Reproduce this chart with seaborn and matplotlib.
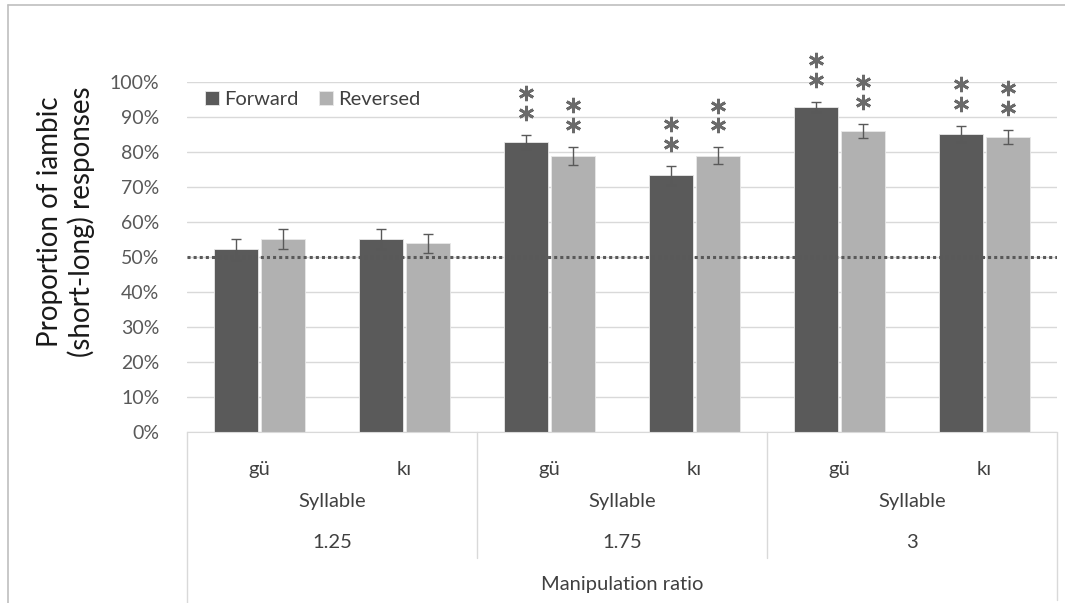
import pandas as pd
import numpy as np
import seaborn as sns
import matplotlib.pyplot as plt
from matplotlib.lines import Line2D

# values (percent of iambic responses)
ratios = ['1.25', '1.75', '3']
syllables = ['gü', 'kı']
forward = [52.2, 55.1, 82.9, 73.4, 92.9, 85.2]
reversed_ = [55.1, 53.9, 78.9, 78.9, 86.1, 84.4]
forward_err = [3.0, 2.9, 2.0, 2.7, 1.4, 2.2]
reversed_err = [2.8, 2.7, 2.6, 2.4, 2.0, 2.0]
forward_sig = [0, 0, 1, 1, 1, 1]
reversed_sig = [0, 0, 1, 1, 1, 1]
directions = ['Forward', 'Reversed']
chance = 50

cats = [r + ' ' + s for r in ratios for s in syllables]
df = pd.DataFrame({
    'cond': cats * 2,
    'direction': ['Forward'] * 6 + ['Reversed'] * 6,
    'pct': forward + reversed_,
})

sns.set_style('white')
plt.rcParams['font.family'] = ['Lato', 'DejaVu Sans']

dark = '#5a5a5a'
light = '#b1b1b1'
grid_c = '#d9d9d9'
txt_c = '#404040'
fs = 14.5

fig = plt.figure(figsize=(10.65, 6.03), dpi=100)
ax = fig.add_axes([187 / 1065, 1 - 432 / 603, 870 / 1065, 350 / 603])

sns.barplot(data=df, x='cond', y='pct', hue='direction', order=cats,
            hue_order=directions, palette=[dark, light], width=0.65, gap=0.075,
            errorbar=None, edgecolor='#e8e8e8', linewidth=0.6, ax=ax)

ax.set_ylim(0, 100)
ax.set_xlim(-0.5, 5.5)
ax.set_yticks(np.arange(0, 101, 10))
ax.set_yticklabels([f'{v}%' for v in range(0, 101, 10)], fontsize=14, color='#595959')
ax.tick_params(axis='y', length=0, pad=20)
ax.yaxis.grid(True, color=grid_c, lw=1)
ax.set_axisbelow(True)
for s in ['top', 'right', 'left']:
    ax.spines[s].set_visible(False)
ax.spines['bottom'].set_color(grid_c)
ax.set_xticks(range(6))
ax.set_xticklabels(syllables * 3, fontsize=fs, color=txt_c)
ax.tick_params(axis='x', length=0, pad=21)
ax.set_xlabel('')
ax.set_ylabel('')

# error bars and significance stars
errs = [forward_err, reversed_err]
sigs = [forward_sig, reversed_sig]
for cont, err, sig in zip(ax.containers, errs, sigs):
    xs = [b.get_x() + b.get_width() / 2 for b in cont]
    ys = [b.get_height() for b in cont]
    ax.errorbar(xs, ys, yerr=err, fmt='none', ecolor='#595959', elinewidth=1,
                capsize=3.5, capthick=1, zorder=4)
    for x, y, e, s in zip(xs, ys, err, sig):
        if s:
            ax.plot([x, x], [y + e + 6.3, y + e + 11.9], ls='none', marker=(6, 2, 0),
                    ms=11, mew=2, color='#6a6a6a', clip_on=False, zorder=5)

# chance line
ax.axhline(chance, color='#595959', ls=(0, (1, 1)), lw=2.2, zorder=6)

sns.move_legend(ax, 'center left', bbox_to_anchor=(0.0, 0.95), ncol=2, title=None,
                frameon=False, fontsize=fs, handlelength=0.7, handleheight=0.7,
                handletextpad=0.25, columnspacing=1.0)
for t in ax.get_legend().get_texts():
    t.set_color(txt_c)

# category table below the axis
tr = ax.get_xaxis_transform()
for i, r in enumerate(ratios):
    xc = 2 * i + 0.5
    ax.text(xc, -0.2, 'Syllable', transform=tr, ha='center', va='center',
            fontsize=fs, color=txt_c)
    ax.text(xc, -0.317, r, transform=tr, ha='center', va='center',
            fontsize=fs, color=txt_c)
ax.text(2.5, -0.437, 'Manipulation ratio', transform=tr, ha='center', va='center',
        fontsize=fs, color=txt_c)
for xv in [1.5, 3.5]:
    ax.plot([xv, xv], [0, -0.36], transform=tr, color=grid_c, lw=1, clip_on=False)
ax.plot([-0.5, -0.5], [0, -0.49], transform=tr, color=grid_c, lw=1, clip_on=False)
ax.plot([5.5, 5.5], [0, -0.48], transform=tr, color=grid_c, lw=1, clip_on=False)

# y label
fig.text(66 / 1065, 1 - 222 / 603, 'Proportion of iambic\n(short-long) responses',
         rotation=90, ha='center', va='center', fontsize=20, color='#1a1a1a',
         multialignment='center', linespacing=1.2)

# outer chart frame
fig.add_artist(Line2D([8 / 1065, 1], [1 - 5 / 603, 1 - 5 / 603], color='#bfbfbf', lw=1.2))
fig.add_artist(Line2D([8 / 1065, 8 / 1065], [0, 1 - 5 / 603], color='#bfbfbf', lw=1.2))

fig.savefig('out.png', dpi=100)
